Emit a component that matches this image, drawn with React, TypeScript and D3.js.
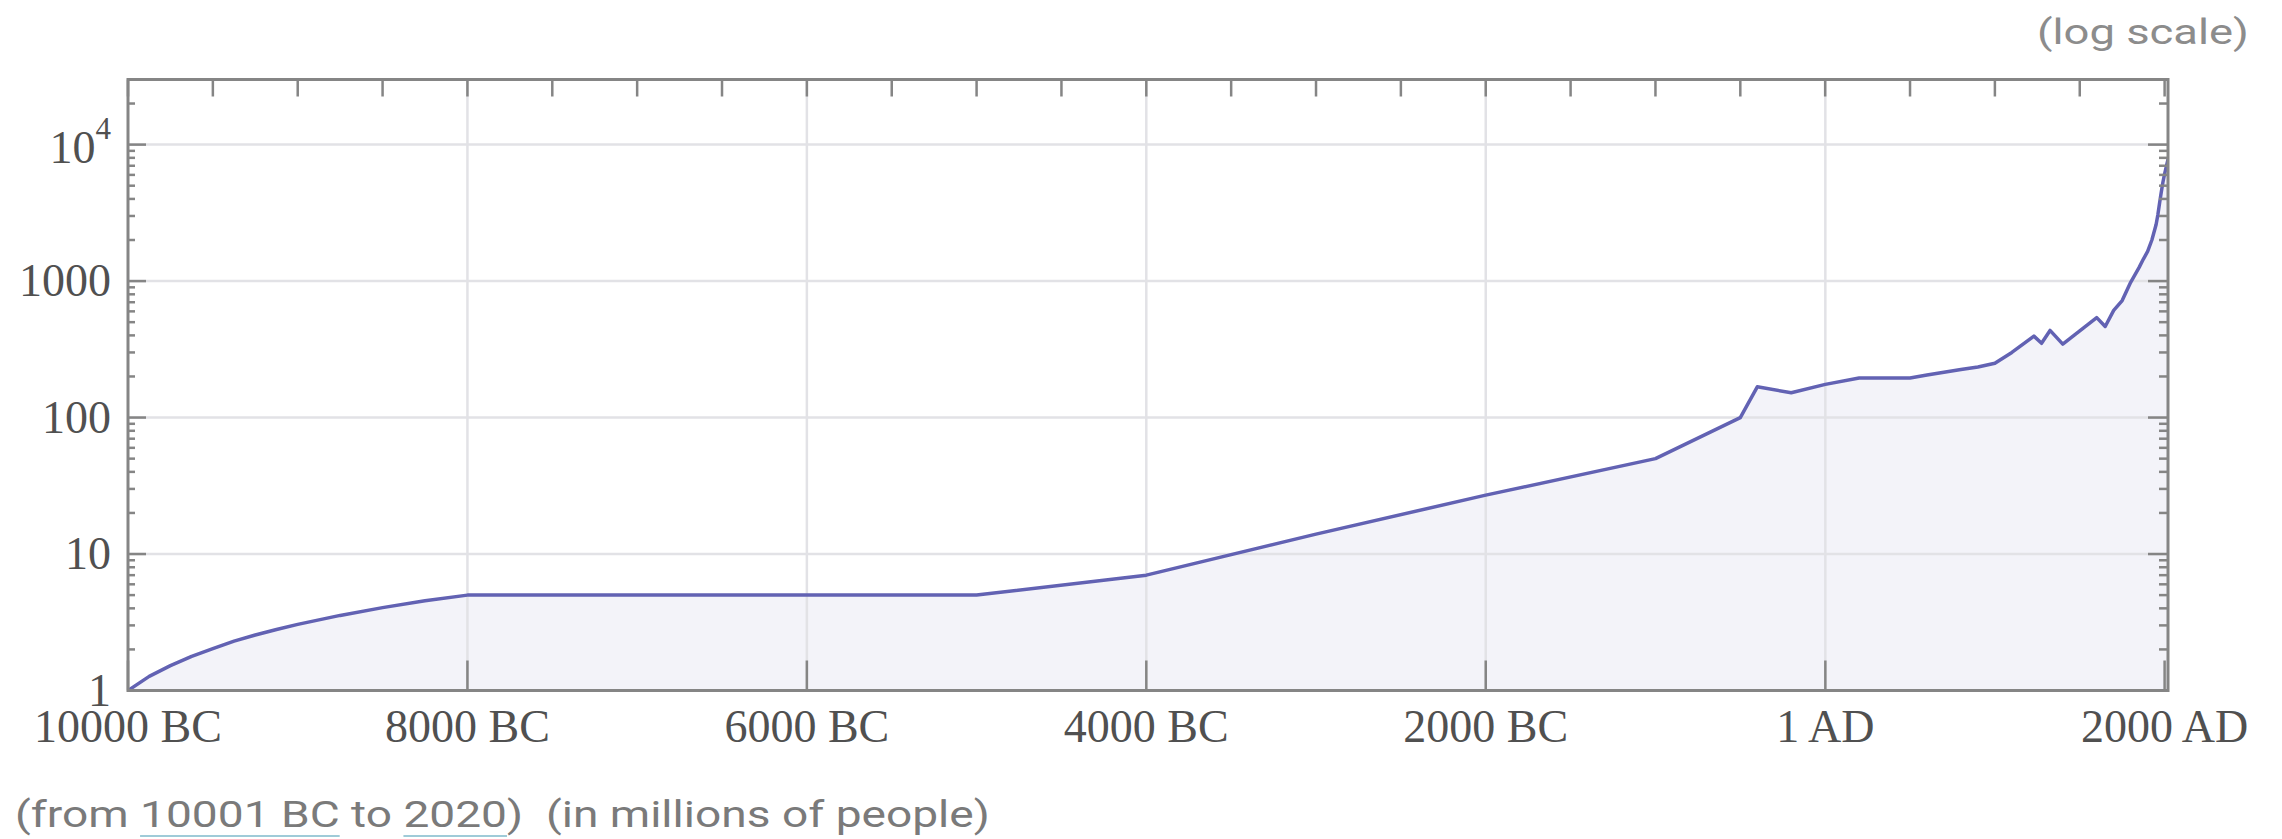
import { useEffect, useRef } from "react";
import * as d3 from "d3";

// world population, millions
const years = [
  -10000, -9875, -9750, -9625, -9500, -9375, -9250, -9125, -9000, -8750, -8500, -8250, -8000, -5000, -4000, -3000,
  -2000, -1000, -500, -400, -200, 1, 200, 400, 500, 600, 700, 800, 900, 1000, 1100, 1230, 1275, 1325, 1400, 1600,
  1650, 1700, 1750, 1800, 1850, 1875, 1900, 1925, 1950, 1960, 1970, 1980, 1990, 2000, 2010, 2020,
];
const population = [
  1, 1.27, 1.52, 1.78, 2.03, 2.3, 2.55, 2.8, 3.05, 3.55, 4.05, 4.55, 5, 5, 7, 14,
  27, 50, 100, 168, 152, 175, 195, 195, 195, 205, 215, 225, 235, 250, 300, 395, 350, 435, 345, 540,
  465, 610, 720, 980, 1260, 1450, 1650, 2000, 2600, 3050, 3700, 4450, 5300, 6100, 6900, 7800,
];

const xTickYears = [-10000, -8000, -6000, -4000, -2000, 1, 2000];
const xTickLabels = ["10000 BC", "8000 BC", "6000 BC", "4000 BC", "2000 BC", "1 AD", "2000 AD"];
const yTickValues = [1, 10, 100, 1000, 10000];
const yTickLabels = ["1", "10", "100", "1000", "10"];

const W = 2282;
const H = 839;
const M = { left: 128, right: 2168, top: 79.5, bottom: 690.5 };

export default function App() {
  const ref = useRef<SVGSVGElement | null>(null);

  useEffect(() => {
    const svg = d3.select(ref.current);
    svg.selectAll("*").remove();

    const x = d3.scaleLinear().domain([-10000, 2020]).range([M.left, M.right]);
    const y = d3.scaleLog().domain([1, 30000]).range([M.bottom, M.top]);
    const data = years.map((yr, i) => ({ yr, v: population[i] }));

    svg.append("rect").attr("width", W).attr("height", H).attr("fill", "#fff");

    svg
      .append("clipPath")
      .attr("id", "plot-clip")
      .append("rect")
      .attr("x", M.left)
      .attr("y", M.top)
      .attr("width", M.right - M.left)
      .attr("height", M.bottom - M.top);

    const plot = svg.append("g").attr("clip-path", "url(#plot-clip)");

    // filling under the curve
    const area = d3
      .area<{ yr: number; v: number }>()
      .x((d) => x(d.yr))
      .y0(y(1))
      .y1((d) => y(d.v));
    plot.append("path").attr("d", area(data) as string).attr("fill", "#f3f3f9");

    // grid
    const gridColor = "#e2e2e6";
    plot
      .append("g")
      .selectAll("line")
      .data(xTickYears.slice(1, -1))
      .join("line")
      .attr("x1", (d) => x(d))
      .attr("x2", (d) => x(d))
      .attr("y1", M.top)
      .attr("y2", M.bottom)
      .attr("stroke", gridColor)
      .attr("stroke-width", 2.5);
    plot
      .append("g")
      .selectAll("line")
      .data(yTickValues.slice(1))
      .join("line")
      .attr("x1", M.left)
      .attr("x2", M.right)
      .attr("y1", (d) => y(d))
      .attr("y2", (d) => y(d))
      .attr("stroke", gridColor)
      .attr("stroke-width", 2.5);

    // the curve
    const line = d3
      .line<{ yr: number; v: number }>()
      .x((d) => x(d.yr))
      .y((d) => y(d.v));
    plot
      .append("path")
      .attr("d", line(data) as string)
      .attr("fill", "none")
      .attr("stroke", "#6262b3")
      .attr("stroke-width", 3.5)
      .attr("stroke-linejoin", "round");

    // frame + ticks
    const axisColor = "#858585";
    const ticks = svg.append("g").attr("stroke", axisColor).attr("stroke-width", 2.5);

    // bottom: long major ticks
    ticks
      .selectAll(".xb")
      .data(xTickYears)
      .join("line")
      .attr("x1", (d) => x(d))
      .attr("x2", (d) => x(d))
      .attr("y1", M.bottom)
      .attr("y2", M.bottom - 30);

    // top: every 500 years
    ticks
      .selectAll(".xt")
      .data(d3.range(-10000, 2001, 500))
      .join("line")
      .attr("x1", (d) => x(d))
      .attr("x2", (d) => x(d))
      .attr("y1", M.top)
      .attr("y2", M.top + 17);

    const minorVals: number[] = [];
    yTickValues.forEach((dec) => {
      for (let k = 2; k <= 9; k++) if (dec * k < 30000) minorVals.push(dec * k);
    });

    // left
    ticks
      .selectAll(".yl")
      .data(yTickValues)
      .join("line")
      .attr("x1", M.left)
      .attr("x2", M.left + 18)
      .attr("y1", (d) => y(d))
      .attr("y2", (d) => y(d));
    ticks
      .selectAll(".ylm")
      .data(minorVals)
      .join("line")
      .attr("x1", M.left)
      .attr("x2", M.left + 7)
      .attr("y1", (d) => y(d))
      .attr("y2", (d) => y(d));
    // right
    ticks
      .selectAll(".yr")
      .data(yTickValues)
      .join("line")
      .attr("x1", M.right)
      .attr("x2", M.right - 20)
      .attr("y1", (d) => y(d))
      .attr("y2", (d) => y(d));
    ticks
      .selectAll(".yrm")
      .data(minorVals)
      .join("line")
      .attr("x1", M.right)
      .attr("x2", M.right - 9)
      .attr("y1", (d) => y(d))
      .attr("y2", (d) => y(d));

    svg
      .append("rect")
      .attr("x", M.left)
      .attr("y", M.top)
      .attr("width", M.right - M.left)
      .attr("height", M.bottom - M.top)
      .attr("fill", "none")
      .attr("stroke", axisColor)
      .attr("stroke-width", 3);

    // tick labels
    const serif = "'Liberation Serif', 'DejaVu Serif', serif";
    const labelColor = "#505050";

    svg
      .append("g")
      .selectAll("text")
      .data(xTickYears)
      .join("text")
      .attr("x", (d) => x(d))
      .attr("y", 742)
      .attr("text-anchor", "middle")
      .attr("font-family", serif)
      .attr("font-size", 46)
      .attr("fill", labelColor)
      .text((_, i) => xTickLabels[i]);

    const yl = svg
      .append("g")
      .selectAll("text")
      .data(yTickValues)
      .join("text")
      .attr("x", 111)
      .attr("y", (d) => y(d) + (d === 10000 ? 18 : 15))
      .attr("text-anchor", "end")
      .attr("font-family", serif)
      .attr("font-size", 46)
      .attr("fill", labelColor);
    yl.append("tspan").text((_, i) => yTickLabels[i]);
    yl.filter((d) => d === 10000)
      .append("tspan")
      .attr("dy", -24)
      .attr("font-size", 31)
      .text("4");

    // captions (stretched horizontally to the reference widths)
    const sans = "Roboto, 'Open Sans', sans-serif";
    const addStretched = (
      str: string,
      left: number,
      base: number,
      width: number,
      size: number,
      color: string
    ) => {
      const g = svg.append("g");
      const t = g
        .append("text")
        .attr("x", 0)
        .attr("y", base)
        .attr("font-family", sans)
        .attr("font-size", size)
        .attr("fill", color)
        .style("white-space", "pre")
        .text(str);
      const node = t.node() as SVGTextElement;
      const sx = width / node.getComputedTextLength();
      g.attr("transform", `translate(${left},0) scale(${sx},1)`);
      return { g, node };
    };

    addStretched("(log scale)", 2037, 44, 212, 35, "#8c8c8c");

    const caption = "(from 10001 BC to 2020)  (in millions of people)";
    const cap = addStretched(caption, 15, 827, 975, 37, "#7a7a7a");
    ["10001 BC", "2020"].forEach((s) => {
      const i = caption.indexOf(s);
      const x0 = cap.node.getStartPositionOfChar(i).x;
      const len = cap.node.getSubStringLength(i, s.length);
      cap.g
        .append("line")
        .attr("x1", x0)
        .attr("x2", x0 + len)
        .attr("y1", 836)
        .attr("y2", 836)
        .attr("stroke", "#9fcbd8")
        .attr("stroke-width", 2);
    });
  }, []);

  return (
    <svg
      ref={ref}
      width={W}
      height={H}
      style={{ position: "absolute", left: 0, top: 0, display: "block" }}
    />
  );
}
